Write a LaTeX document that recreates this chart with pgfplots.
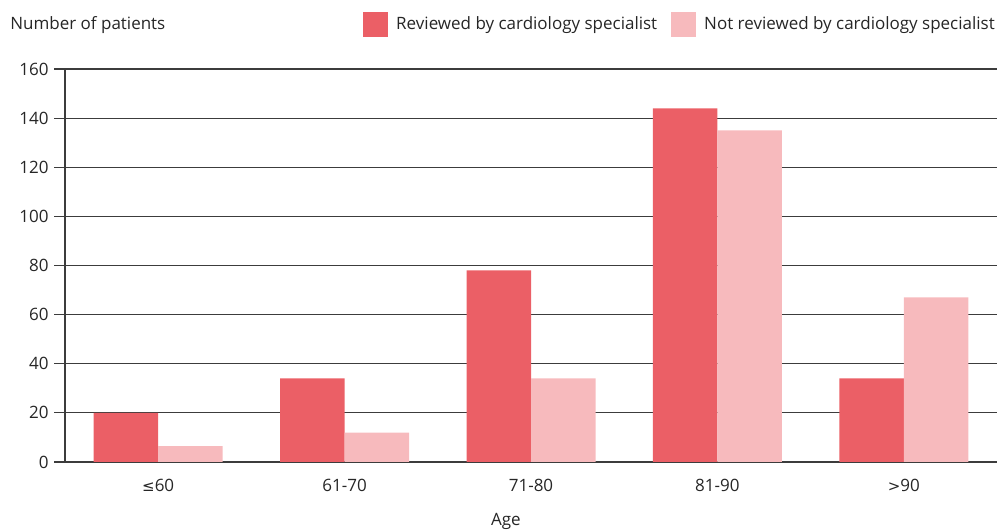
\documentclass[border=0pt]{standalone}
\usepackage{pgfplots}
\pgfplotsset{compat=1.18}
\usepackage{fontspec}
\setmainfont{Open Sans}
\newfontfamily\symfont{DejaVu Sans}
\definecolor{cred}{RGB}{235,95,102}
\definecolor{cpink}{RGB}{247,186,189}
\definecolor{cgrid}{RGB}{60,60,60}
\begin{document}
\fontsize{17pt}{20pt}\selectfont
\begin{tikzpicture}
\begin{axis}[
  at={(65pt,70pt)}, anchor=south west,
  scale only axis, width=932pt, height=393pt,
  ymin=0, ymax=160, xmin=-0.5, xmax=4.5,
  ybar=0pt, bar width=0.346,
  ytick={0,20,...,160},
  xtick={0,1,2,3,4},
  xticklabels={{\symfont\fontsize{15pt}{17pt}\selectfont ≤}60,61-70,71-80,81-90,{\symfont\fontsize{15pt}{17pt}\selectfont >}90},
  minor xtick={-0.5,0.5,1.5,2.5,3.5,4.5},
  xtick style={draw=none},
  minor tick length=15pt,
  major tick length=21pt,
  tick align=outside,
  axis lines=left,
  axis line style={-, cgrid, line width=1.2pt},
  tick style={cgrid, line width=1.2pt},
  ymajorgrids,
  grid style={cgrid, line width=1.2pt},
  /pgf/number format/assume math mode=true,
  ticklabel style={font=\fontsize{17pt}{20pt}\selectfont, text=black!85},
  xticklabel style={yshift=-1pt},
  xlabel={Age},
  xlabel style={at={(axis description cs:0.473,0)}, anchor=center, yshift=-59pt, font=\fontsize{17pt}{20pt}\selectfont, text=black!85},
  ylabel={Number of patients},
  ylabel style={rotate=-90, at={(axis description cs:-0.065,1.112)}, anchor=west, font=\fontsize{17pt}{20pt}\selectfont, text=black!85},
  legend columns=2,
  legend style={at={(axis description cs:1,1.114)}, anchor=east, draw=none, fill=none, inner sep=0pt,
    font=\fontsize{17pt}{20pt}\selectfont, text=black!85,
    /tikz/every odd column/.append style={column sep=6pt},
    /tikz/every even column/.append style={column sep=12pt}},
  legend image code/.code={\fill[#1] (0pt,-12.5pt) rectangle (25pt,12.5pt);},
]
\addplot[fill=cred, draw=none] coordinates {(0,20) (1,34) (2,78) (3,144) (4,34)};
\addplot[fill=cpink, draw=none] coordinates {(0,6.5) (1,12) (2,34) (3,135) (4,67)};
\legend{Reviewed by cardiology specialist, Not reviewed by cardiology specialist}
\end{axis}
\pgfresetboundingbox
\useasboundingbox (0,0) rectangle (1003pt,532pt);
\end{tikzpicture}
\end{document}
